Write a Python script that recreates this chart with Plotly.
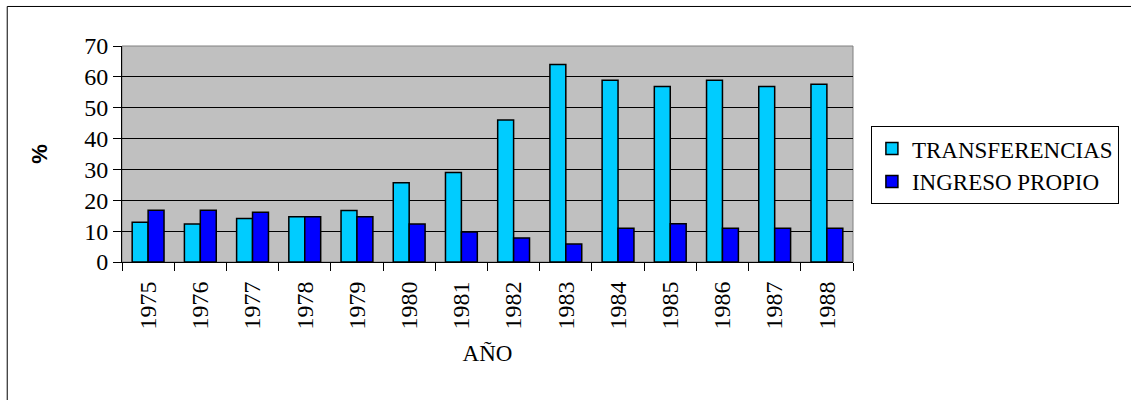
import plotly.graph_objects as go

# Participación porcentual por año
years = ["1975", "1976", "1977", "1978", "1979", "1980", "1981",
         "1982", "1983", "1984", "1985", "1986", "1987", "1988"]
transferencias = [12.9, 12.3, 14.1, 14.7, 16.7, 25.7, 29.0,
                  46.0, 64.0, 58.9, 56.9, 58.9, 56.9, 57.6]
ingreso_propio = [16.8, 16.8, 16.1, 14.7, 14.7, 12.3, 9.7,
                  7.8, 5.8, 10.9, 12.4, 10.9, 10.9, 10.9]
y_ticks = [0, 10, 20, 30, 40, 50, 60, 70]

FONT = "Liberation Serif"

fig = go.Figure()
fig.add_trace(go.Bar(
    x=years, y=transferencias, name="TRANSFERENCIAS",
    marker=dict(color="#00CCFF", line=dict(color="black", width=1.5)),
))
fig.add_trace(go.Bar(
    x=years, y=ingreso_propio, name="INGRESO PROPIO",
    marker=dict(color="#0000FF", line=dict(color="black", width=1.5)),
))

# plot-area frame (top/right) and the outer chart frame
fig.add_shape(type="rect", xref="paper", yref="paper", x0=0, x1=1, y0=0, y1=1,
              line=dict(color="#808080", width=1), layer="below")
fig.add_shape(type="rect", xref="paper", yref="paper",
              x0=-0.157, x1=1.5, y0=-0.9, y1=1.183,
              line=dict(color="black", width=1))

fig.update_layout(
    width=1131, height=400,
    margin=dict(l=122, r=276, t=46, b=138),
    paper_bgcolor="white",
    plot_bgcolor="#C0C0C0",
    barmode="group",
    bargap=0.39,
    bargroupgap=0,
    font=dict(family=FONT, size=22, color="black"),
    showlegend=True,
    legend=dict(
        x=1.0245, y=0.629, xanchor="left", yanchor="top",
        bgcolor="white", bordercolor="black", borderwidth=1,
        font=dict(family=FONT, size=23, color="black"),
        itemwidth=30, tracegroupgap=0,
    ),
    xaxis=dict(
        type="category",
        tickangle=-90,
        ticks="outside", ticklen=8, tickcolor="black",
        tickson="boundaries",
        ticklabelstandoff=9,
        showline=True, linecolor="black", linewidth=1,
        showgrid=False,
        tickfont=dict(family=FONT, size=24),
        title=dict(text="AÑO", font=dict(family=FONT, size=23), standoff=16),
    ),
    yaxis=dict(
        range=[0, 70],
        tickvals=y_ticks,
        ticks="outside", ticklen=8, tickcolor="black",
        showline=True, linecolor="black", linewidth=1,
        showgrid=True, gridcolor="black", gridwidth=1,
        zeroline=False,
        tickfont=dict(family=FONT, size=24),
        title=dict(text="<b>%</b>", font=dict(family="Liberation Sans", size=22),
                   standoff=30),
    ),
)

fig.write_html("out.html")
